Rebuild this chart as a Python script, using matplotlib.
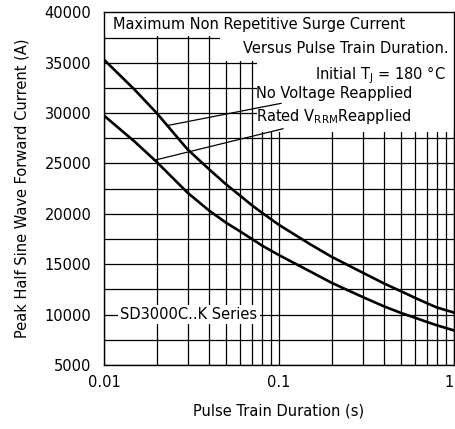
import numpy as np
from matplotlib import pyplot as plt
from matplotlib.patches import Rectangle
from matplotlib.ticker import MultipleLocator, LogLocator, NullFormatter

plt.rcParams['font.family'] = ['DejaVu Sans']

# pulse train duration (s)
duration = [0.01, 0.015, 0.02, 0.03, 0.04, 0.05, 0.06, 0.07, 0.08, 0.1,
            0.15, 0.2, 0.3, 0.4, 0.5, 0.6, 0.7, 0.8, 1.0]
# peak current (A)
no_voltage = [35300, 32300, 30000, 26400, 24400, 22900, 21800, 20850, 20100, 18900,
              17000, 15730, 14170, 13070, 12300, 11650, 11130, 10700, 10200]
rated_vrrm = [29750, 27150, 25150, 22100, 20300, 19100, 18250, 17500, 16850, 15900,
              14300, 13150, 11750, 10800, 10150, 9680, 9270, 8930, 8430]

fig = plt.figure(figsize=(4.55, 4.29), dpi=100)
ax = fig.add_axes([0.2286, 0.1492, 0.7694, 0.8221])

ax.set_xscale('log')
ax.set_xlim(0.01, 1)
ax.set_ylim(5000, 40000)
ax.yaxis.set_major_locator(MultipleLocator(5000))
ax.yaxis.set_minor_locator(MultipleLocator(2500))
ax.xaxis.set_major_locator(LogLocator(base=10))
ax.xaxis.set_minor_locator(LogLocator(base=10, subs=np.arange(2, 10)))
ax.xaxis.set_minor_formatter(NullFormatter())
ax.set_xticks([0.01, 0.1, 1])
ax.set_xticklabels(['0.01', '0.1', '1'])
ax.get_xticklabels()[-1].set_ha('right')

ax.set_axisbelow(True)
ax.grid(True, which='both', color='black', linewidth=0.9)
ax.tick_params(which='both', length=0, labelsize=10.5)
ax.tick_params(axis='x', pad=7)
ax.tick_params(axis='y', pad=9)
for sp in ax.spines.values():
    sp.set_linewidth(1.0)

# white areas behind the text
masks = [
    (0.0, 0.932, 1.0, 0.068),
    (0.331, 0.862, 0.669, 0.07),
    (0.436, 0.66, 0.564, 0.202),
]
for x0, y0, w, h in masks:
    ax.add_patch(Rectangle((x0, y0), w, h, transform=ax.transAxes,
                           facecolor='white', edgecolor='none', zorder=1))

ax.plot(duration, no_voltage, color='black', linewidth=1.9, zorder=3)
ax.plot(duration, rated_vrrm, color='black', linewidth=1.9, zorder=3)

fs = 10.5
ax.text(0.025, 0.966, 'Maximum Non Repetitive Surge Current', transform=ax.transAxes,
        fontsize=fs, ha='left', va='center', zorder=4)
ax.text(0.983, 0.897, 'Versus Pulse Train Duration.', transform=ax.transAxes,
        fontsize=fs, ha='right', va='center', zorder=4)
ax.text(0.975, 0.822, 'Initial T$_\\mathregular{J}$ = 180 °C', transform=ax.transAxes,
        fontsize=fs, ha='right', va='center', zorder=4)

ax.annotate('No Voltage Reapplied', xy=(0.0228, 28750), xytext=(0.0735, 31990),
            fontsize=fs, ha='left', va='center', zorder=4,
            arrowprops=dict(arrowstyle='-', color='black', linewidth=0.9,
                            shrinkA=0, shrinkB=0))
ax.annotate('Rated V$_\\mathregular{RRM}$Reapplied', xy=(0.0192, 25300), xytext=(0.0735, 29670),
            fontsize=fs, ha='left', va='center', zorder=4,
            arrowprops=dict(arrowstyle='-', color='black', linewidth=0.9,
                            shrinkA=0, shrinkB=0))

ax.text(0.0124, 10000, 'SD3000C..K Series', fontsize=fs, ha='left', va='center', zorder=4,
        bbox=dict(facecolor='white', edgecolor='none', pad=1.5))

ax.set_xlabel('Pulse Train Duration (s)', fontsize=fs, labelpad=10)
ax.set_ylabel('Peak Half Sine Wave Forward Current (A)', fontsize=fs, labelpad=11)

fig.savefig('out.png', dpi=100)
